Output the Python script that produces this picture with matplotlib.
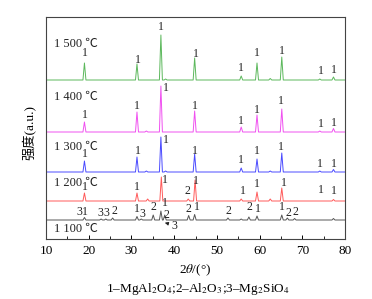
import matplotlib
matplotlib.use("Agg")
import matplotlib.pyplot as plt
from matplotlib.ticker import MultipleLocator

plt.rcParams["font.family"] = ["Liberation Serif", "Noto Sans CJK SC", "DejaVu Sans"]
plt.rcParams["mathtext.fontset"] = "stix"

# sample labels and curve offsets (a.u.)
temps = ["1 100 ℃", "1 200 ℃", "1 300 ℃", "1 400 ℃", "1 500 ℃"]
offsets = [19, 38, 67, 107, 159]
colors = ["#555555", "#ff5a5a", "#4a4aff", "#f050f0", "#5cb85c"]

peaks_1100 = [19.0, 22.9, 24.0, 25.6, 31.3, 32.3, 35.1, 36.9, 37.8, 43.4, 44.8, 52.6, 55.7, 57.5, 59.4, 65.2, 66.5, 68.2, 77.3]
heights_1100 = [2.5, 1, 1, 2, 3.5, 1, 5, 9, 5, 4.5, 5.5, 2, 1, 3, 4, 5, 2, 1.5, 1.5]
peaks_1200 = [19.0, 31.3, 33.8, 37.0, 43.3, 44.9, 55.7, 59.4, 62.5, 65.2, 77.3]
heights_1200 = [8, 8, 2, 24, 2, 21, 2, 9, 2, 13, 1.5]
peaks_1300 = [19.0, 31.3, 33.5, 36.9, 38.0, 44.8, 55.7, 59.4, 62.5, 65.2, 74.1, 77.3]
heights_1300 = [11, 15, 1, 35, 1, 18, 4, 13, 1, 19, 1, 2.5]
peaks_1400 = [19.0, 31.3, 33.5, 36.9, 44.8, 55.7, 59.4, 65.2, 74.1, 77.3]
heights_1400 = [10, 20, 1, 46, 21, 5, 17, 23, 1, 3.5]
peaks_1500 = [19.0, 31.3, 36.9, 38.0, 44.8, 55.7, 59.4, 62.5, 65.2, 74.1, 77.3]
heights_1500 = [17, 16, 45, 1, 22, 4, 17, 1.5, 23, 1, 3]

all_peaks = [peaks_1100, peaks_1200, peaks_1300, peaks_1400, peaks_1500]
all_heights = [heights_1100, heights_1200, heights_1300, heights_1400, heights_1500]

# phase marks: (2theta, y, text)
marks_1100 = [(17.7, 27, "3"), (19.1, 27, "1"), (22.8, 26, "3"), (24.2, 25.5, "3"), (26.0, 27.5, "2"),
              (31.3, 30.5, "1"), (32.6, 25, "3"), (35.2, 32.5, "2"), (37.9, 36, "1"), (38.3, 24.5, "2"),
              (43.3, 30, "2"), (45.3, 32.5, "1"), (52.8, 28.5, "2"), (57.6, 31.5, "2"), (59.6, 30, "1"),
              (65.3, 32, "1"), (66.8, 26.5, "2"), (68.5, 27, "2")]
marks_1200 = [(19.1, 52.5, "1"), (31.3, 52, "1"), (37.9, 59, "1"), (43.1, 47.5, "2"), (45.1, 57.5, "1"),
              (56.1, 47.5, "1"), (59.3, 55, "1"), (65.6, 56.5, "1"), (74.3, 49, "1"), (77.5, 48.5, "1")]
marks_1300 = [(19.1, 85, "1"), (31.5, 87.5, "1"), (38.0, 99, "1"), (44.9, 88, "1"), (55.6, 79, "1"),
              (59.3, 87.5, "1"), (65.1, 92, "1"), (74.2, 75, "1"), (77.4, 75, "1")]
marks_1400 = [(19.0, 124, "1"), (31.3, 133, "1"), (38.0, 151, "1"), (44.9, 133, "1"), (55.6, 117.5, "1"),
              (59.3, 129, "1"), (65.0, 137.5, "1"), (74.3, 115, "1"), (77.3, 116.5, "1")]
marks_1500 = [(19.1, 186, "1"), (31.5, 179, "1"), (36.9, 212, "1"), (45.1, 185, "1"), (55.6, 171, "1"),
              (59.3, 186, "1"), (65.3, 188, "1"), (74.3, 168, "1"), (77.5, 169, "1")]
all_marks = [marks_1100, marks_1200, marks_1300, marks_1400, marks_1500]
temp_label_y = [10, 56.5, 92, 142.5, 195]


def spike_line(peaks, heights, base):
    xs, ys = [10], [base]
    for p, h in sorted(zip(peaks, heights)):
        xs += [p - 0.35, p, p + 0.35]
        ys += [base, base + h, base]
    xs.append(80)
    ys.append(base)
    return xs, ys


fig = plt.figure(figsize=(3.72, 2.99), dpi=100)
ax = fig.add_axes([46 / 372, 1 - 239 / 299, 299 / 372, 222 / 299])

for i in range(5):
    xs, ys = spike_line(all_peaks[i], all_heights[i], offsets[i])
    ax.plot(xs, ys, color=colors[i], lw=0.7)
    for x, y, t in all_marks[i]:
        ax.text(x, y, t, fontsize=8.5, ha="center", va="center", color="#222222")
    ax.text(11.8, temp_label_y[i], temps[i], fontsize=9, ha="left", va="center", color="#222222")

ax.annotate("", xy=(37.2, 17), xytext=(39.3, 14.5),
            arrowprops=dict(arrowstyle="-|>", color="#222222", lw=0.6, mutation_scale=5))
ax.text(40.0, 13, "3", fontsize=8.5, ha="center", va="center", color="#222222")

ax.set_xlim(10, 80)
ax.set_ylim(0, 222)
ax.set_yticks([])
ax.xaxis.set_major_locator(MultipleLocator(10))
ax.xaxis.set_minor_locator(MultipleLocator(5))
ax.tick_params(axis="x", which="major", direction="in", length=3, width=0.7, labelsize=9.5, pad=4)
ax.tick_params(axis="x", which="minor", direction="in", length=2, width=0.6)
for s in ax.spines.values():
    s.set_linewidth(0.8)
    s.set_color("#444444")

ax.set_xlabel("2$\\theta$/(°)", fontsize=9.5, labelpad=4)
fig.text(30 / 372, 1 - 133 / 299, "强度(a.u.)", rotation=90, fontsize=9.5, ha="center", va="center")
fig.text(0.531, 1 - 289 / 299, "1–MgAl$_2$O$_4$;2–Al$_2$O$_3$;3–Mg$_2$SiO$_4$",
         fontsize=9.5, ha="center", va="center")

fig.savefig("out.png", dpi=100)
plt.close(fig)
